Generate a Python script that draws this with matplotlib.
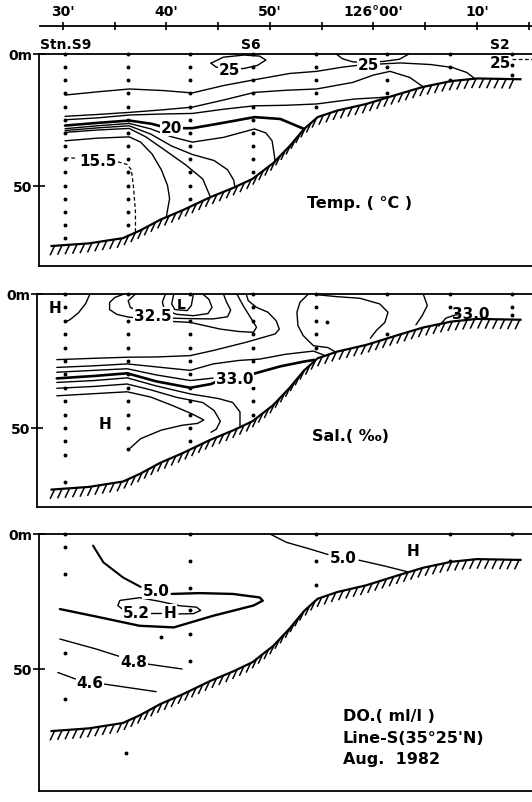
import numpy as np
import matplotlib
matplotlib.use("Agg")
import matplotlib.pyplot as plt
from matplotlib.collections import LineCollection

plt.rcParams['font.family'] = ['DejaVu Sans']
plt.rcParams['font.weight'] = 'bold'

# ---- data (longitude in minutes east of 125°00', depth in m) ----
STATIONS = [30.2, 36.3, 42.3, 48.4, 54.4, 61.3, 67.4, 73.4]   # S9 ... S2
LON_TICKS = [30, 40, 50, 60, 70]
LON_LABELS = ["30'", "40'", "50'", "126°00'", "10'"]
LON_MINOR = [35, 45, 55, 65, 75]

bottom_lon = [28.9, 32.5, 35.8, 37.5, 39.4, 41.5, 44.2, 46.5, 48.3, 50.3,
              51.9, 53.3, 54.6, 56.5, 59.3, 62.3, 64.8, 67.5, 70.0, 74.2]
bottom_dep = [73.0, 72.0, 70.0, 67.0, 63.0, 59.5, 54.5, 50.8, 47.5, 41.5,
              35.0, 28.5, 24.0, 21.5, 19.0, 15.4, 12.5, 10.3, 9.3, 9.6]

# sample depths at each station
temp_dots = [[0, 5, 10, 15, 20, 25, 30, 35, 40, 45, 50, 55, 60, 65, 70],
             [0, 5, 10, 15, 20, 25, 30, 35, 40, 45, 50, 55, 60, 65],
             [0, 5, 10, 15, 20, 25, 30, 35, 40, 45, 50, 55],
             [0, 5, 10, 15, 20, 25, 30, 35, 40, 45],
             [0, 5, 10, 15, 20],
             [0, 5, 10, 15],
             [0, 5, 10],
             [0, 4, 8]]
sal_dots = [[0, 5, 10, 15, 20, 25, 30, 35, 40, 45, 50, 55, 60, 70],
            [0, 10, 15, 20, 25, 30, 35, 40, 45, 50, 58],
            [0, 10, 15, 20, 25, 30, 35, 40, 45, 50, 55],
            [0, 5, 10, 15, 20, 25, 35, 40, 45],
            [0, 5, 10, 15, 20],
            [0, 15],
            [0, 5],
            [0, 5, 8]]
do_dots = [[0, 5, 15, 44, 61], [], [0, 10, 20, 28, 37, 47], [],
           [0, 10, 19], [], [0, 10], [0]]
do_extra = [(39.5, 38.0), (36.1, 81.0)]
sal_extra = [(55.5, 10.6)]

# temperature isotherms
t_A = [(30.2, 15.6), (33.3, 14.4), (36.4, 13.3), (39.7, 13.9), (42.5, 14.8), (45.5, 12.0),
       (48.5, 9.8), (51.9, 7.4), (54.5, 6.6), (57.0, 5.0), (58.7, 4.2), (62.6, 3.4),
       (65.5, 4.0), (67.6, 5.1), (69.0, 7.0), (69.8, 9.4)]
t_B = [(30.2, 23.7), (33.3, 23.0), (36.4, 22.2), (39.7, 21.2), (42.5, 20.2), (45.5, 17.5),
       (48.5, 14.6), (51.5, 13.8), (54.5, 13.3), (58.0, 10.8), (60.0, 8.0), (61.6, 6.6),
       (63.5, 8.9), (64.8, 12.5)]
t_C = [(30.2, 25.0), (33.3, 24.3), (36.4, 23.2), (39.7, 22.8), (42.5, 22.6), (45.5, 21.0),
       (48.5, 19.7), (51.5, 19.5), (54.5, 19.0), (58.2, 17.1), (60.5, 16.6), (61.5, 16.2)]
t_20a = [(30.2, 27.2), (33.3, 26.2), (36.4, 25.3), (38.5, 26.5), (39.4, 27.4)]
t_20b = [(41.6, 28.2), (42.5, 28.2), (45.0, 26.5), (48.5, 24.0), (51.0, 24.7), (53.3, 28.5)]
t_E = [(30.2, 28.4), (33.3, 27.3), (36.4, 26.4), (38.5, 28.5), (40.5, 31.5), (42.5, 33.5),
       (45.5, 31.7), (48.5, 28.5), (49.6, 30.0), (50.2, 33.0), (50.4, 38.0), (50.5, 41.0)]
t_F = [(30.2, 29.1), (33.3, 28.1), (36.4, 27.3), (38.5, 30.5), (40.5, 35.0), (42.5, 38.2),
       (44.6, 40.5), (45.9, 44.0), (46.5, 48.0), (46.6, 50.5)]
t_G = [(30.2, 29.8), (33.3, 28.9), (36.4, 28.3), (38.0, 31.5), (40.0, 37.0), (41.8, 42.0),
       (43.5, 47.5), (44.2, 54.0)]
t_H = [(30.2, 33.0), (33.3, 32.0), (36.4, 31.5), (37.5, 33.5), (38.6, 38.0), (39.5, 44.0),
       (40.1, 50.0), (40.3, 55.0), (40.0, 61.5)]
t_155a = [(30.2, 39.5), (31.4, 39.6)]
t_155b = [(35.3, 41.0), (36.2, 42.0), (36.6, 44.0), (36.8, 50.0), (37.0, 60.0), (37.0, 67.6)]
t_25loop = [(44.3, 3.5), (45.5, 1.2), (47.5, 0.4), (49.0, 0.8), (49.6, 2.3), (48.8, 4.3),
            (47.5, 5.5), (46.0, 5.8), (44.8, 5.0), (44.3, 3.5)]
t_25cap = [(56.4, 0.0), (57.0, 1.8), (58.0, 3.0), (59.5, 3.2), (61.0, 2.8), (62.5, 2.0),
           (63.2, 0.5), (63.4, 0.0)]
t_25dash = [(73.4, 1.9), (75.3, 1.9)]

# salinity isohalines
s_1 = [(32.6, 0.0), (32.2, 3.5), (31.5, 7.0), (30.7, 9.5), (30.2, 10.6)]
s_2a = [(35.9, 0.0), (35.0, 1.3), (34.5, 3.2), (34.5, 5.8), (35.2, 7.6), (36.3, 8.6), (37.0, 8.9)]
s_2b = [(40.3, 10.2), (42.3, 10.6), (45.2, 13.1), (47.0, 14.0), (48.4, 14.3), (48.7, 12.4),
        (48.2, 9.3), (47.4, 4.3), (46.8, 0.0)]
s_3a = [(37.0, 0.0), (36.3, 2.5), (36.5, 5.0), (37.2, 6.2)]
s_3b = [(40.3, 9.0), (42.3, 9.2), (44.5, 9.3), (45.9, 8.5), (46.2, 6.0), (45.8, 3.0), (45.5, 0.0)]
s_4 = [(40.7, 0.0), (40.5, 3.7), (40.8, 5.8), (42.0, 6.2), (42.4, 4.3), (42.6, 0.0)]
s_5 = [(39.9, 0.0), (39.6, 3.0), (39.8, 6.0), (41.0, 7.6), (42.6, 8.1), (44.0, 7.3),
       (44.4, 5.0), (44.1, 2.0), (43.5, 0.0)]
s_6 = [(29.4, 24.5), (33.0, 24.0), (36.2, 23.6), (39.0, 23.5), (42.3, 23.0), (44.5, 21.1),
       (47.7, 18.0), (50.5, 14.9), (50.9, 13.1), (50.6, 10.0), (49.8, 6.8), (48.7, 5.0),
       (47.9, 2.5), (47.7, 0.0)]
s_7 = [(53.7, 0.0), (52.9, 3.1), (52.6, 6.8), (52.7, 11.8), (53.2, 15.5), (54.2, 19.3),
       (55.6, 20.0), (56.3, 21.6)]
s_8 = [(29.4, 27.4), (33.0, 26.8), (36.2, 26.1), (39.0, 27.2), (42.3, 28.5), (44.5, 26.1),
       (47.0, 24.8), (49.0, 24.3), (51.5, 22.5), (54.2, 21.3), (55.2, 22.8)]
s_9 = [(29.4, 29.2), (33.0, 28.5), (36.2, 27.9), (39.0, 30.2), (42.3, 32.3), (44.5, 31.4)]
s_33a = [(29.4, 31.5), (33.0, 30.6), (36.2, 29.6), (39.0, 32.6), (42.3, 35.0), (44.3, 33.6),
         (44.9, 32.6)]
s_33b = [(48.3, 29.9), (51.0, 27.0), (53.3, 25.2), (54.3, 24.6)]
s_11 = [(29.4, 33.0), (33.0, 32.3), (36.2, 31.3), (39.0, 34.3), (42.3, 37.3), (45.0, 39.0),
        (46.4, 40.5), (47.1, 44.0), (47.1, 49.3)]
s_12 = [(29.4, 35.2), (33.0, 34.5), (36.2, 33.6), (38.5, 35.8), (41.0, 38.6), (43.5, 40.5),
        (44.6, 43.5), (45.2, 47.5), (44.8, 50.5), (44.3, 51.6)]
s_13 = [(29.4, 38.0), (33.0, 37.2), (36.2, 36.5), (38.5, 38.5), (40.5, 41.5), (42.5, 44.8),
        (43.6, 47.0), (43.0, 48.3), (41.5, 49.0), (39.5, 50.8), (37.5, 54.0), (36.5, 57.5)]
s_14 = [(54.6, 0.3), (56.5, 1.0), (58.7, 1.6), (60.6, 3.7), (61.4, 6.8), (61.1, 10.6),
        (60.3, 13.5), (59.7, 16.5)]
s_15 = [(64.8, 0.0), (65.2, 4.3), (64.7, 8.1), (64.1, 11.5)]
s_16 = [(66.3, 12.0), (67.0, 9.0), (67.9, 7.8), (68.1, 7.8)]

# dissolved oxygen
d_1a = [(50.0, 0.0), (51.6, 3.1), (53.9, 5.6), (55.6, 7.6)]
d_1b = [(58.6, 9.7), (60.9, 11.7), (63.3, 14.0)]
d_2a = [(32.9, 4.3), (33.9, 10.5), (35.8, 16.1), (37.5, 19.6)]
d_2b = [(40.5, 22.2), (43.2, 21.9), (46.4, 22.2), (49.0, 23.5), (49.3, 24.7), (48.4, 26.5),
        (44.5, 30.3), (40.7, 34.6), (37.4, 34.0), (33.6, 30.9), (29.7, 27.8)]
d_3a = [(35.9, 28.3), (35.3, 26.5), (35.5, 24.6), (37.4, 23.6), (39.4, 25.0), (41.3, 26.6),
        (42.9, 27.1), (43.3, 28.3), (42.6, 29.5), (41.2, 29.6)]
d_3b = [(38.4, 29.3), (39.5, 29.3)]
d_4a = [(29.7, 38.9), (33.2, 42.6), (35.5, 45.4)]
d_4b = [(38.2, 48.2), (41.5, 50.0)]
d_5a = [(29.5, 51.3), (31.2, 53.7)]
d_5b = [(34.0, 55.6), (39.0, 58.4)]

W, H = 532, 803
fig = plt.figure(figsize=(W / 100, H / 100), dpi=100)


def px2lon(px):
    return 30 + (px - 63) / 10.35


def panel(left, top, bot, dmax):
    ax = fig.add_axes([left / W, 1 - bot / H, (W + 4 - left) / W, (bot - top) / H])
    ax.set_xlim(px2lon(left), px2lon(W + 4))
    ax.set_ylim(dmax, 0)
    for sp in ax.spines.values():
        sp.set_linewidth(1.3)
    ax.spines['right'].set_visible(False)
    ax.set_xticks([])
    ax.set_yticks([0, 50])
    ax.set_yticklabels(['0m', '50'])
    ax.tick_params(axis='y', direction='inout', length=8, width=1.2, labelsize=10, pad=1)
    return ax


def line(ax, pts, lw=1.0, **kw):
    xs, ys = zip(*pts)
    ax.plot(xs, ys, color='k', lw=lw, solid_capstyle='round', zorder=3, **kw)


def lab(ax, x, y, s, size=11, bg=True):
    ax.text(x, y, s, ha='center', va='center', fontsize=size, fontweight='bold', zorder=6,
            bbox=dict(boxstyle='square,pad=0.05', fc='white', ec='none') if bg else None)


def seabed(ax):
    ax.plot(bottom_lon, bottom_dep, color='k', lw=1.6, zorder=4)
    pts = ax.transData.transform(np.column_stack([bottom_lon, bottom_dep]))
    s = np.concatenate([[0], np.cumsum(np.hypot(*np.diff(pts, axis=0).T))])
    si = np.arange(3, s[-1], 7.5)
    a = np.column_stack([np.interp(si, s, pts[:, 0]), np.interp(si, s, pts[:, 1])])
    b = a + [-4.5, -9.5]
    inv = ax.transData.inverted()
    segs = [[inv.transform(p), inv.transform(q)] for p, q in zip(a, b)]
    ax.add_collection(LineCollection(segs, colors='k', linewidths=1.1, zorder=4))


def dots(ax, table, extra=()):
    for lon, deps in zip(STATIONS, table):
        ax.plot([lon] * len(deps), deps, 'o', color='k', ms=1.8, clip_on=False, zorder=5)
    for lon, d in extra:
        ax.plot(lon, d, 'o', color='k', ms=1.8, zorder=5)


# top longitude axis
axt = fig.add_axes([40 / W, 1 - 27 / H, (W + 4 - 40) / W, 0.0001])
axt.set_xlim(px2lon(40), px2lon(W + 4))
axt.set_yticks([])
for k in ['left', 'right', 'bottom']:
    axt.spines[k].set_visible(False)
axt.spines['top'].set_linewidth(1.3)
axt.xaxis.tick_top()
axt.set_xticks(LON_TICKS)
axt.set_xticklabels(LON_LABELS)
axt.set_xticks(LON_MINOR, minor=True)
axt.tick_params(axis='x', which='both', direction='inout', length=6, width=1.2,
                labelsize=10, pad=3)

# ---- temperature ----
ax1 = panel(39, 55, 267, 80.6)
seabed(ax1)
dots(ax1, temp_dots)
for pts in [t_A, t_B, t_C, t_E, t_F, t_G, t_H, t_25loop, t_25cap]:
    line(ax1, pts)
line(ax1, t_20a, lw=1.9)
line(ax1, t_20b, lw=1.9)
line(ax1, t_155a, lw=0.9, ls=(0, (3, 2)))
line(ax1, t_155b, lw=0.9, ls=(0, (3, 2)))
line(ax1, t_25dash, lw=0.9, ls=(0, (3, 2)))
lab(ax1, 40.5, 27.9, '20')
lab(ax1, 33.4, 40.5, '15.5')
lab(ax1, 46.1, 6.0, '25')
lab(ax1, 59.5, 3.9, '25')
lab(ax1, 72.3, 3.4, '25', bg=False)
ax1.text(px2lon(40), -3.8, 'Stn.S9', ha='left', va='center', fontsize=10, clip_on=False)
ax1.text(48.1, -3.8, 'S6', ha='center', va='center', fontsize=10, clip_on=False)
ax1.text(72.2, -3.8, 'S2', ha='center', va='center', fontsize=10, clip_on=False)
ax1.text(53.6, 56.3, 'Temp. ( °C )', ha='left', va='center', fontsize=11.5)

# ---- salinity ----
ax2 = panel(37, 295, 508, 79.5)
seabed(ax2)
dots(ax2, sal_dots, sal_extra)
for pts in [s_1, s_2a, s_2b, s_3a, s_3b, s_4, s_5, s_6, s_7, s_8, s_9, s_11, s_12,
            s_13, s_14, s_15, s_16]:
    line(ax2, pts)
line(ax2, s_33a, lw=1.9)
line(ax2, s_33b, lw=1.9)
lab(ax2, 38.7, 8.1, '32.5')
lab(ax2, 46.6, 31.7, '33.0')
lab(ax2, 69.4, 7.4, '33.0', bg=False)
lab(ax2, 29.2, 5.0, 'H', bg=False)
lab(ax2, 41.4, 3.6, 'L', size=10, bg=False)
lab(ax2, 34.1, 48.5, 'H', bg=False)
ax2.text(54.1, 53.0, 'Sal.( ‰)', ha='left', va='center', fontsize=11.5)

# ---- dissolved oxygen ----
ax3 = panel(39, 535, 792, 95.2)
seabed(ax3)
dots(ax3, do_dots, do_extra)
for pts in [d_1a, d_1b, d_3a, d_3b, d_4a, d_4b, d_5a, d_5b]:
    line(ax3, pts)
line(ax3, d_2a, lw=1.5)
line(ax3, d_2b, lw=1.7)
lab(ax3, 57.1, 8.8, '5.0')
lab(ax3, 39.0, 21.0, '5.0')
lab(ax3, 37.1, 29.0, '5.2')
lab(ax3, 40.3, 29.0, 'H')
lab(ax3, 36.8, 47.3, '4.8')
lab(ax3, 32.6, 54.9, '4.6')
lab(ax3, 63.8, 6.2, 'H', bg=False)
for i, s in enumerate(['DO.( ml/l )', 'Line-S(35°25\'N)', 'Aug.  1982']):
    ax3.text(57.05, 67.4 + 7.9 * i, s, ha='left', va='center', fontsize=11.5)

fig.savefig('out.png', dpi=100)
